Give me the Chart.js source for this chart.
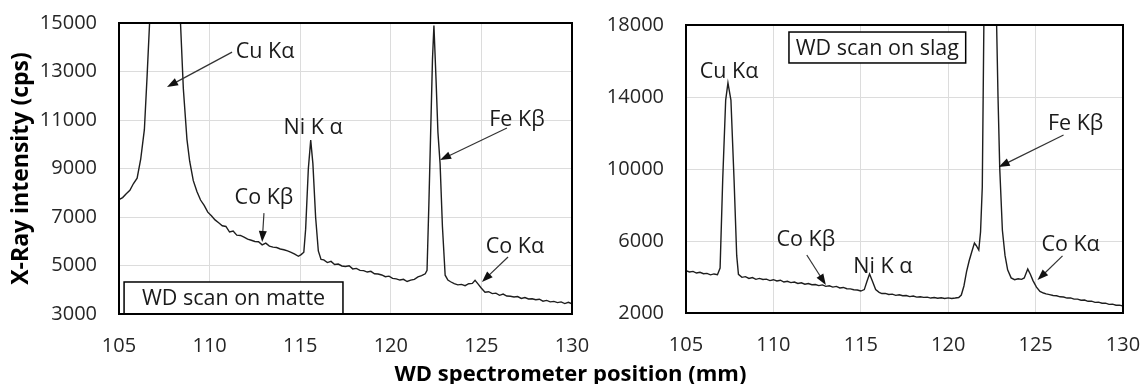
<!DOCTYPE html>
<html>
<head>
<meta charset="utf-8">
<script src="https://cdn.jsdelivr.net/npm/chart.js@4.4.1/dist/chart.umd.min.js"></script>
<style>
  body { margin: 0; background: #fff; width: 1141px; height: 384px; position: relative; overflow: hidden; }
  canvas { position: absolute; top: 0; }
  #matte { left: 0; }
  #slag { left: 570px; }
  #xtitle { position: absolute; left: 0; width: 1141px; top: 361px; text-align: center;
            font: bold 22px 'Open Sans'; line-height: 22px; color: #000; }
</style>
</head>
<body>
<canvas id="matte" width="590" height="384"></canvas>
<canvas id="slag" width="571" height="384"></canvas>
<div id="xtitle">WD spectrometer position (mm)</div>
<script>
// WD scan on matte
const matteX = [105.0,105.2,105.4,105.6,105.8,106.0,106.2,106.4,106.55,106.7,106.9,107.2,107.5,107.8,108.1,108.4,108.55,108.75,108.9,109.1,109.3,109.5,109.7,109.9,
  110.1,110.3,110.5,110.7,110.9,111.1,111.3,111.5,111.7,111.9,112.1,112.3,112.5,112.7,112.9,113.1,113.3,113.5,113.7,113.9,114.1,114.3,114.5,114.7,114.9,
  115.05,115.2,115.3,115.45,115.58,115.7,115.85,116.0,116.15,116.3,116.5,116.7,116.9,117.1,117.3,117.5,117.7,117.9,118.1,118.3,118.5,118.7,118.9,119.1,119.3,119.5,119.7,119.9,
  120.1,120.3,120.5,120.7,120.9,121.1,121.3,121.5,121.7,121.9,122.0,122.1,122.2,122.3,122.38,122.5,122.6,122.72,122.85,123.0,123.15,123.3,123.5,123.7,123.9,
  124.1,124.3,124.5,124.65,124.8,125.0,125.2,125.4,125.6,125.8,126.0,126.2,126.4,126.6,126.8,127.0,127.2,127.4,127.6,127.8,128.0,128.2,128.4,128.6,128.8,129.0,129.2,129.4,129.6,129.8,130.0];
const matteY = [7720,7800,7960,8100,8380,8600,9400,10600,12800,15200,21000,30000,36000,30000,21000,14900,12300,10200,9300,8500,8050,7700,7480,7200,
  7050,6880,6760,6640,6610,6380,6420,6250,6240,6170,6090,6040,5990,5980,5850,5920,5800,5760,5740,5680,5650,5600,5540,5470,5380,
  5450,5550,6500,9000,10170,9200,7000,5600,5250,5230,5120,5170,5040,5060,4980,4960,4990,4860,4880,4800,4790,4730,4760,4660,4650,4610,4540,4560,
  4470,4450,4400,4430,4340,4400,4430,4530,4580,4660,4800,7500,10500,13500,14900,12600,10500,9200,6600,4600,4400,4330,4250,4200,4220,
  4170,4250,4260,4390,4250,4060,3900,3920,3840,3860,3770,3820,3740,3730,3700,3720,3640,3680,3620,3630,3590,3610,3530,3560,3500,3520,3470,3500,3430,3480,3420];

// WD scan on slag
const slagX = [105.0,105.2,105.4,105.6,105.8,106.0,106.2,106.4,106.6,106.8,106.95,107.1,107.27,107.4,107.57,107.75,107.9,108.0,108.2,108.4,108.6,108.8,109.0,109.2,109.4,109.6,109.8,
  110.0,110.2,110.4,110.6,110.8,111.0,111.2,111.4,111.6,111.8,112.0,112.2,112.4,112.6,112.8,113.0,113.2,113.4,113.6,113.8,114.0,114.2,114.4,114.6,114.8,
  115.0,115.2,115.35,115.5,115.65,115.85,116.05,116.2,116.4,116.6,116.8,117.0,117.2,117.4,117.6,117.8,118.0,118.2,118.4,118.6,118.8,119.0,119.2,119.4,119.6,119.8,
  120.0,120.2,120.4,120.6,120.75,120.9,121.05,121.2,121.35,121.5,121.6,121.75,121.85,121.95,122.05,122.4,122.75,122.85,122.95,123.1,123.25,123.4,123.6,123.8,
  124.0,124.2,124.35,124.55,124.7,124.85,125.05,125.25,125.45,125.6,125.8,126.0,126.2,126.4,126.6,126.8,127.0,127.2,127.4,127.6,127.8,128.0,128.2,128.4,128.6,128.8,129.0,129.2,129.4,129.6,129.8,130.0];
const slagY = [4350,4280,4310,4220,4260,4180,4200,4120,4170,4130,4500,9400,13830,14780,13830,9390,5200,4150,3980,4020,3920,3970,3870,3920,3860,3880,3800,
  3850,3780,3820,3720,3760,3690,3720,3640,3680,3600,3640,3570,3580,3520,3560,3480,3510,3440,3480,3390,3420,3350,3340,3290,3280,
  3220,3300,3750,4170,3800,3300,3150,3080,3090,3030,3050,2980,3010,2960,2970,2910,2940,2880,2900,2870,2880,2830,2860,2820,2850,2810,
  2840,2810,2830,2860,3000,3500,4300,4900,5400,5890,5750,5500,6500,9000,19000,30000,19000,14000,10000,6600,5200,4400,3950,3850,
  3900,3870,3950,4440,4150,3800,3440,3200,3110,3060,3020,2970,2960,2900,2890,2830,2840,2770,2770,2710,2720,2650,2660,2590,2600,2540,2550,2480,2490,2430,2440,2390];

const xTicks = [105, 110, 115, 120, 125, 130];

const tickFont = { family: 'Open Sans', size: 20 };
const textColor = '#262626';
const noteFont = '21.5px "Open Sans"';

// frame, peak labels, arrows and the legend box
const decor = {
  id: 'decor',
  afterDatasetsDraw(chart, args, opts) {
    const { ctx, chartArea: a, scales: { x, y } } = chart;
    const px = v => x.getPixelForValue(v), py = v => y.getPixelForValue(v);
    ctx.save();

    // legend box
    const b = opts.box;
    const bx1 = px(b.x1), by1 = py(b.y1), bx2 = px(b.x2), by2 = py(b.y2);
    ctx.fillStyle = '#fff';
    ctx.fillRect(bx1, by1, bx2 - bx1, by2 - by1);
    ctx.strokeStyle = '#000';
    ctx.lineWidth = 1.5;
    ctx.strokeRect(bx1, by1, bx2 - bx1, by2 - by1);
    ctx.font = noteFont;
    ctx.fillStyle = '#1a1a1a';
    ctx.textAlign = 'center';
    ctx.textBaseline = 'middle';
    ctx.fillText(b.text, (bx1 + bx2) / 2, (by1 + by2) / 2 + 1);

    // frame
    ctx.lineWidth = 2;
    ctx.strokeRect(a.left, a.top, a.right - a.left, a.bottom - a.top);

    opts.labels.forEach(l => ctx.fillText(l.text, px(l.x), py(l.y)));

    ctx.strokeStyle = '#333';
    ctx.fillStyle = '#111';
    ctx.lineWidth = 1.2;
    opts.arrows.forEach(ar => {
      const x1 = px(ar.from[0]), y1 = py(ar.from[1]);
      const x2 = px(ar.to[0]), y2 = py(ar.to[1]);
      const ang = Math.atan2(y2 - y1, x2 - x1);
      const len = 11, w = 4;
      ctx.beginPath();
      ctx.moveTo(x1, y1);
      ctx.lineTo(x2 - Math.cos(ang) * len * 0.8, y2 - Math.sin(ang) * len * 0.8);
      ctx.stroke();
      ctx.beginPath();
      ctx.moveTo(x2, y2);
      ctx.lineTo(x2 - Math.cos(ang) * len - Math.sin(ang) * w, y2 - Math.sin(ang) * len + Math.cos(ang) * w);
      ctx.lineTo(x2 - Math.cos(ang) * len + Math.sin(ang) * w, y2 - Math.sin(ang) * len - Math.cos(ang) * w);
      ctx.closePath();
      ctx.fill();
    });
    ctx.restore();
  }
};

// tick padding would otherwise be added to the chart area margins
function noPad(s) {
  s.paddingTop = 0; s.paddingBottom = 0; s.paddingLeft = 0; s.paddingRight = 0;
}

function makeChart(id, xs, ys, yMin, yMax, yStep, yWidth, pad, plotH, yTitle, decorOpts) {
  return new Chart(document.getElementById(id), {
    type: 'scatter',
    data: {
      datasets: [{
        data: xs.map((v, i) => ({ x: v, y: ys[i] })),
        showLine: true,
        borderColor: '#1e1e1e',
        borderWidth: 1.4,
        pointRadius: 0,
        tension: 0
      }]
    },
    options: {
      responsive: false,
      animation: false,
      layout: { padding: pad, autoPadding: false },
      plugins: { legend: { display: false }, tooltip: { enabled: false }, decor: decorOpts },
      scales: {
        x: {
          type: 'linear', min: 105, max: 130,
          afterBuildTicks: s => { s.ticks = xTicks.map(v => ({ value: v })); },
          afterFit: s => { s.height = 384 - pad.top - plotH; noPad(s); },
          grid: { color: '#dcdcdc', drawTicks: false },
          border: { display: false },
          ticks: { font: tickFont, color: textColor, padding: 20, maxRotation: 0, callback: v => String(v) }
        },
        y: {
          min: yMin, max: yMax,
          ticks: { stepSize: yStep, font: tickFont, color: textColor, padding: 22, callback: v => String(v) },
          afterFit: s => { s.width = yWidth; noPad(s); },
          grid: { color: '#dcdcdc', drawTicks: false },
          border: { display: false },
          title: yTitle ? { display: true, text: yTitle, font: { family: 'Open Sans', size: 23, weight: 'bold' }, color: '#000', padding: { top: 8, bottom: 0 } } : { display: false }
        }
      }
    },
    plugins: [decor]
  });
}

makeChart('matte', matteX, matteY, 3000, 15000, 2000, 119, { top: 23, right: 18, bottom: 0, left: 0 }, 291,
  'X-Ray intensity (cps)', {
    box: { x1: 105.28, y1: 4320, x2: 117.36, y2: 3000, text: 'WD scan on matte' },
    labels: [
      { text: 'Cu K\u03b1', x: 113.06, y: 13800 },
      { text: 'Ni K \u03b1', x: 115.71, y: 10670 },
      { text: 'Co K\u03b2', x: 113.0, y: 7780 },
      { text: 'Fe K\u03b2', x: 126.96, y: 11000 },
      { text: 'Co K\u03b1', x: 126.85, y: 5760 }
    ],
    arrows: [
      { from: [111.24, 13800], to: [107.65, 12360] },
      { from: [113.0, 7160], to: [112.9, 5970] },
      { from: [126.41, 10670], to: [122.72, 9350] },
      { from: [126.47, 5350], to: [125.03, 4320] }
    ]
  });

makeChart('slag', slagX, slagY, 2000, 18000, 4000, 116, { top: 25, right: 18, bottom: 0, left: 0 }, 288,
  null, {
    box: { x1: 110.89, y1: 17610, x2: 121.0, y2: 15890, text: 'WD scan on slag' },
    labels: [
      { text: 'Cu K\u03b1', x: 107.46, y: 15390 },
      { text: 'Fe K\u03b2', x: 127.29, y: 12500 },
      { text: 'Co K\u03b2', x: 111.86, y: 6060 },
      { text: 'Ni K \u03b1', x: 116.26, y: 4560 },
      { text: 'Co K\u03b1', x: 127.0, y: 5780 }
    ],
    arrows: [
      { from: [126.6, 11890], to: [122.89, 10110] },
      { from: [111.91, 5220], to: [113.0, 3560] },
      { from: [126.54, 5170], to: [125.11, 3830] }
    ]
  });
</script>
</body>
</html>
